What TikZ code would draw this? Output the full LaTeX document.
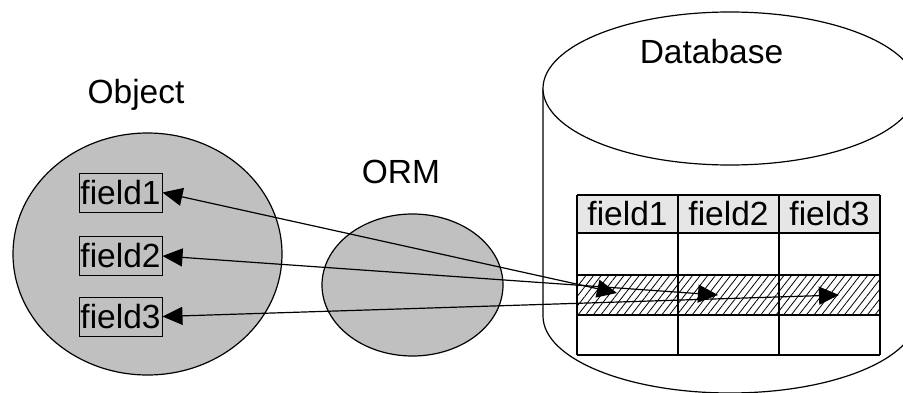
\documentclass[tikz,border=0pt]{standalone}
\usepackage{fontspec}
\setmainfont{Liberation Sans}
\usetikzlibrary{arrows.meta,patterns.meta}
\definecolor{blobgray}{HTML}{C0C0C0}
\definecolor{headgray}{HTML}{E6E6E6}
\begin{document}
\begin{tikzpicture}[x=1pt,y=1pt,
  outline/.style={draw=black,line width=1.2pt},
  blob/.style={outline,fill=blobgray},
  lbl/.style={font=\fontsize{33.5}{40}\selectfont,anchor=base,inner sep=0pt},
  fbox/.style={draw=black,line width=1pt,fill=blobgray,font=\fontsize{33.5}{40}\selectfont,minimum width=83pt,minimum height=39pt,inner sep=0pt},
  cell/.style={draw=black,line width=1.2pt},
  link/.style={line width=1.2pt,{Triangle[length=20pt,width=18pt]}-{Triangle[length=20pt,width=18pt]}}]
\fill[white] (0,0) rectangle (903,392);
\useasboundingbox (0,0) rectangle (903,392);
% Object
\draw[blob] (147.5,138) ellipse[x radius=134.5,y radius=121];
\node[lbl] (objlbl) at (136,289) {Object};
\node[fbox] (f1) at (120.5,199.5) {field1};
\node[fbox] (f2) at (120.5,136) {field2};
\node[fbox] (f3) at (120.5,75.5) {field3};
% ORM
\draw[blob] (412.5,107) ellipse[x radius=90.5,y radius=71];
\node[lbl] (ormlbl) at (401,209) {ORM};
% Database cylinder
\draw[outline,fill=white] (543,303.5) -- (543,76) arc[start angle=180,end angle=360,x radius=187,y radius=77] -- (917,303.5);
\draw[outline,fill=white] (730,303.5) ellipse[x radius=187,y radius=76.5];
\node[lbl] (dblbl) at (711.5,329) {Database};
% Table
\fill[headgray] (577,159) rectangle (880,197);
\fill[pattern={Lines[angle=52,distance=6pt,line width=0.8pt]}] (577,77) rectangle (880,117);
\foreach \yy in {197,159,117,77,37} \draw[cell] (577,\yy) -- (880,\yy);
\foreach \xx in {577,678,779,880} \draw[cell] (\xx,37) -- (\xx,197);
\node[lbl,anchor=center] (h1) at (627.5,178) {field1};
\node[lbl,anchor=center] (h2) at (728.5,178) {field2};
\node[lbl,anchor=center] (h3) at (829.5,178) {field3};
\coordinate (t1) at (617,99);
\coordinate (t2) at (718,97);
\coordinate (t3) at (839,97);
% connectors
\draw[link] (f1.east) -- (t1);
\draw[link] (f2.east) -- (t2);
\draw[link] (f3.east) -- (t3);
\end{tikzpicture}
\end{document}
